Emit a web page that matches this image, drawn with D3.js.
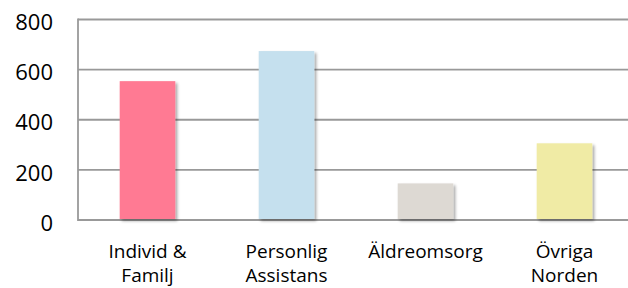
<!DOCTYPE html>
<html><head><meta charset="utf-8">
<script src="https://cdn.jsdelivr.net/npm/d3@7"></script>
<style>body{margin:0;background:#fff;}svg{display:block;}</style>
</head><body>
<script>
const categories = [["Individ &","Familj"],["Personlig","Assistans"],["Äldreomsorg"],["Övriga","Norden"]];
const values = [554, 674, 146, 306];
const colors = ["#FF7A93","#C5E0EE","#DDD9D3","#F0EBA5"];
const yTicks = [0,200,400,600,800];

const W=628,H=288;
const svg=d3.select("body").append("svg").attr("width",W).attr("height",H);
const defs=svg.append("defs");
const f=defs.append("filter").attr("id","sh").attr("x","-20%").attr("y","-20%").attr("width","150%").attr("height","150%");
f.append("feGaussianBlur").attr("in","SourceAlpha").attr("stdDeviation",1.8);
f.append("feOffset").attr("dx",2).attr("dy",2).attr("result","b");
f.append("feComponentTransfer").append("feFuncA").attr("type","linear").attr("slope",0.35);
const m=f.append("feMerge");m.append("feMergeNode");m.append("feMergeNode").attr("in","SourceGraphic");

const x=d3.scaleBand().domain(d3.range(values.length)).range([78,634]).paddingInner(0.6).paddingOuter(0.3);
const y=d3.scaleLinear().domain([0,800]).range([220,19.5]);

const font="'Open Sans','Liberation Sans',sans-serif";
const g=svg.append("g");
g.selectAll("line.grid").data(yTicks).join("line")
 .attr("x1",78).attr("x2",W).attr("y1",d=>y(d)).attr("y2",d=>y(d))
 .attr("stroke","#999").attr("stroke-width",1.8);
g.append("line").attr("x1",78).attr("x2",78).attr("y1",y(800)-0.9).attr("y2",y(0)+0.9).attr("stroke","#999").attr("stroke-width",1.8);

g.selectAll("rect").data(values).join("rect")
 .attr("x",(d,i)=>x(i)).attr("width",x.bandwidth())
 .attr("y",d=>y(d)).attr("height",d=>y(0)-y(d)-1)
 .attr("fill",(d,i)=>colors[i]).attr("filter","url(#sh)");

g.selectAll("text.yt").data(yTicks).join("text")
 .attr("x",53).attr("y",d=>y(d)+3).attr("dy","0.35em").attr("text-anchor","end")
 .attr("font-family",font).attr("font-size",22).attr("fill","#000").text(d=>d);

categories.forEach((lines,i)=>{
  const t=g.append("text").attr("text-anchor","middle").attr("font-family",font).attr("font-size",19).attr("fill","#000");
  lines.forEach((l,j)=>t.append("tspan").attr("x",x(i)+x.bandwidth()/2).attr("y",258+j*24).text(l));
});
</script>
</body></html>
